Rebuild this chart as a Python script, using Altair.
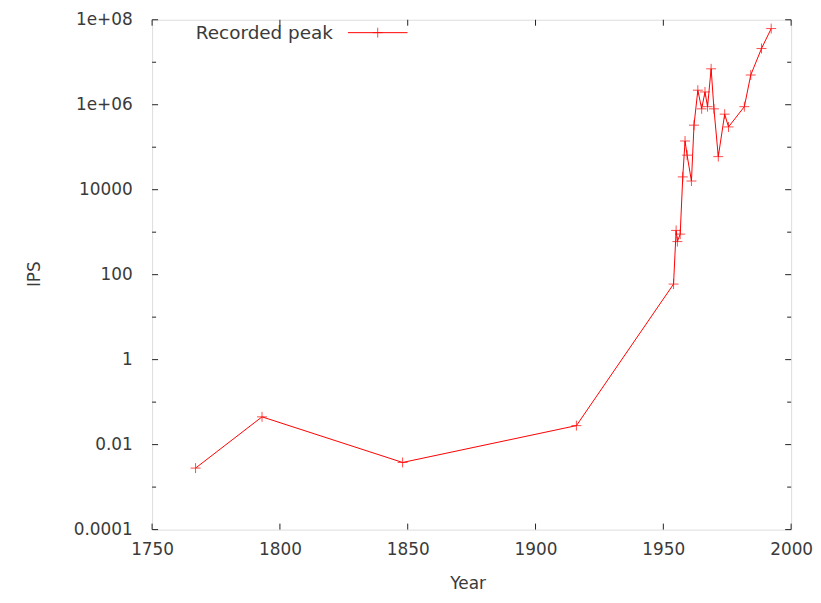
import altair as alt
import pandas as pd

# data
years = [1767, 1793, 1848, 1916, 1954, 1955, 1955.5, 1956.6, 1957.6, 1958.5, 1959.3,
         1961, 1962, 1963.5, 1965, 1966.3, 1967.3, 1968.7, 1969.8, 1971.5, 1974,
         1975.5, 1981.7, 1984.2, 1988.4, 1992.2]
ips = [0.0028, 0.045, 0.0038, 0.028, 60, 1100, 600, 900, 20000, 140000, 65000,
       16000, 330000, 2.2e6, 8e5, 2e6, 9e5, 7e6, 8e5, 6e4, 6e5,
       3e5, 9e5, 5e6, 2.1e7, 6.2e7]

x_ticks = [1750, 1800, 1850, 1900, 1950, 2000]
y_major = [1e-4, 1e-2, 1, 1e2, 1e4, 1e6, 1e8]
y_major_labels = ["0.0001", "0.01", "1", "100", "10000", "1e+06", "1e+08"]
y_minor = [1e-3, 1e-1, 10, 1e3, 1e5, 1e7]
series_name = "Recorded peak"

W, H = 643, 513
FONT = "DejaVu Sans"
FS = 17
TXT = "#3a3a3a"
RED = "#ff0000"

df = pd.DataFrame({"year": years, "ips": ips, "idx": list(range(len(years)))})

# label expression built from the tick label list
expr = "''"
for v, lab in reversed(list(zip(y_major, y_major_labels))):
    expr = f"datum.value < {v * 3} ? '{lab}' : ({expr})"

xscale = alt.Scale(domain=[1750, 2000], nice=False, zero=False)
yscale = alt.Scale(type="log", domain=[1e-4, 1e8], nice=False)

xaxis = alt.Axis(values=x_ticks, format="d", ticks=False, grid=False, domain=False,
                 labelFlush=False, labelOverlap=False,
                 labelFont=FONT, labelFontSize=FS, labelColor=TXT, labelPadding=12,
                 title="Year", titleFont=FONT, titleFontSize=FS, titleColor=TXT,
                 titleFontWeight="normal", titleX=W / 2 - 4, titleY=59,
                 titleBaseline="alphabetic", titleAnchor="middle")
yaxis = alt.Axis(values=y_major, labelExpr=expr, ticks=False, grid=False, domain=False,
                 labelFlush=False, labelOverlap=False,
                 labelFont=FONT, labelFontSize=FS, labelColor=TXT, labelPadding=20,
                 title="IPS", titleFont=FONT, titleFontSize=FS, titleColor=TXT,
                 titleFontWeight="normal", titleX=-118, titleY=H / 2 - 1,
                 titleAngle=270, titleBaseline="middle", titleAlign="center")

base = alt.Chart(df)
line = base.mark_line(color=RED, strokeWidth=1).encode(
    x=alt.X("year:Q", scale=xscale, axis=xaxis),
    y=alt.Y("ips:Q", scale=yscale, axis=yaxis),
    order="idx:Q",
)
plus = "M-1,0L1,0M0,-1L0,1"
pts = base.mark_point(shape=plus, size=100, color=RED, strokeWidth=1, filled=False).encode(
    x=alt.X("year:Q", scale=xscale), y=alt.Y("ips:Q", scale=yscale)
)

tick_color = "#222222"
xt = alt.Chart(pd.DataFrame({"t": x_ticks}))
xt_bot = xt.mark_rule(color=tick_color, strokeWidth=1).encode(
    x=alt.X("t:Q", scale=xscale), y=alt.value(H), y2=alt.value(H - 6))
xt_top = xt.mark_rule(color=tick_color, strokeWidth=1).encode(
    x=alt.X("t:Q", scale=xscale), y=alt.value(0), y2=alt.value(6))

ymj = alt.Chart(pd.DataFrame({"t": y_major}))
ymn = alt.Chart(pd.DataFrame({"t": y_minor}))
ytl = ymj.mark_rule(color=tick_color, strokeWidth=1).encode(
    y=alt.Y("t:Q", scale=yscale), x=alt.value(0), x2=alt.value(6))
ytr = ymj.mark_rule(color=tick_color, strokeWidth=1).encode(
    y=alt.Y("t:Q", scale=yscale), x=alt.value(W), x2=alt.value(W - 6))
ynl = ymn.mark_rule(color=tick_color, strokeWidth=1).encode(
    y=alt.Y("t:Q", scale=yscale), x=alt.value(0), x2=alt.value(4))
ynr = ymn.mark_rule(color=tick_color, strokeWidth=1).encode(
    y=alt.Y("t:Q", scale=yscale), x=alt.value(W), x2=alt.value(W - 4))

leg = alt.Chart(pd.DataFrame({"name": [series_name]}))
leg_text = leg.mark_text(align="right", baseline="middle", font=FONT, fontSize=18.5,
                         color=TXT).encode(text="name:N", x=alt.value(182), y=alt.value(13))
leg_line = leg.mark_rule(color=RED, strokeWidth=1).encode(
    x=alt.value(197), x2=alt.value(257), y=alt.value(13))
leg_pt = leg.mark_point(shape=plus, size=100, color=RED, strokeWidth=1, filled=False).encode(
    x=alt.value(227), y=alt.value(13))

chart = alt.layer(xt_bot, xt_top, ytl, ytr, ynl, ynr, line, pts, leg_line, leg_pt, leg_text).properties(
    width=W, height=H,
    autosize=alt.AutoSizeParams(type="none"),
    padding={"left": 145, "top": 10, "right": 22, "bottom": 64},
).configure_view(stroke="#222222", strokeWidth=1).configure(background="white")

chart.save("out.html", embed_options={"renderer": "svg", "actions": False})
